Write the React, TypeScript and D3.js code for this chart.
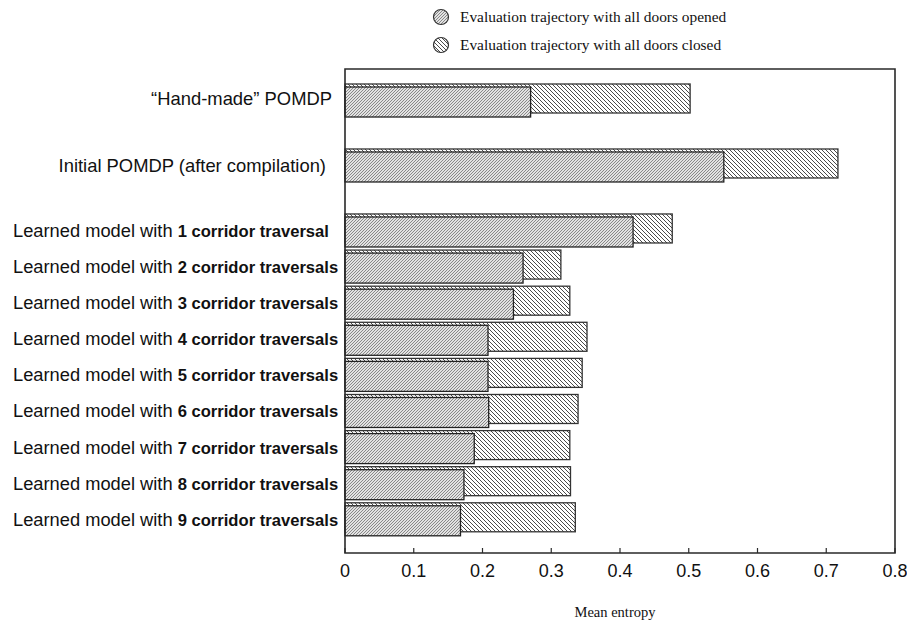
import React from 'react';
import * as d3 from 'd3';

const labelPlain = [
  '“Hand-made” POMDP',
  'Initial POMDP (after compilation)',
  'Learned model with ',
  'Learned model with ',
  'Learned model with ',
  'Learned model with ',
  'Learned model with ',
  'Learned model with ',
  'Learned model with ',
  'Learned model with ',
  'Learned model with ',
];
const labelBold = [
  '',
  '',
  '1 corridor traversal',
  '2 corridor traversals',
  '3 corridor traversals',
  '4 corridor traversals',
  '5 corridor traversals',
  '6 corridor traversals',
  '7 corridor traversals',
  '8 corridor traversals',
  '9 corridor traversals',
];
const openedValues = [0.27, 0.551, 0.419, 0.259, 0.245, 0.208, 0.208, 0.209, 0.188, 0.173, 0.168];
const closedValues = [0.502, 0.717, 0.476, 0.314, 0.327, 0.352, 0.345, 0.339, 0.327, 0.328, 0.335];
const xTicks = [0, 0.1, 0.2, 0.3, 0.4, 0.5, 0.6, 0.7, 0.8];
const legendLabels = [
  'Evaluation trajectory with all doors opened',
  'Evaluation trajectory with all doors closed',
];
const xTitle = 'Mean entropy';

const W = 907;
const H = 626;
const left = 345;
const right = 895;
const top = 69;
const bottom = 553;

export default function App() {
  const x = d3.scaleLinear().domain([0, 0.8]).range([left, right]);
  // slot positions: first two groups are spaced wider than the learned models
  const slot = (i: number) => (i < 2 ? i * 1.8 : 3.6 + (i - 2));
  const y = d3.scaleLinear().domain([0, 11.6]).range([84, 502.8]);
  const closedH = 29;
  const openOff = 3;
  const openH = 30;
  const frame = '#2a2a2a';
  const sans = 'Arial, "Liberation Sans", Helvetica, sans-serif';
  const serif = '"Times New Roman", "Liberation Serif", serif';

  return (
    <svg width={W} height={H} style={{ position: 'absolute', left: 0, top: 0, background: '#fff' }}>
      <defs>
        <pattern id="pOpen" patternUnits="userSpaceOnUse" width="3" height="3">
          <rect width="3" height="3" fill="#e2e2e2" />
          <path d="M0,3 L3,0 M-1,1 L1,-1 M2,4 L4,2" stroke="#6a6a6a" strokeWidth="0.75" />
        </pattern>
        <pattern id="pClosed" patternUnits="userSpaceOnUse" width="4" height="4">
          <rect width="4" height="4" fill="#fff" />
          <path d="M0,0 L4,4 M-1,3 L1,5 M3,-1 L5,1" stroke="#2a2a2a" strokeWidth="0.85" />
        </pattern>
      </defs>

      {/* legend */}
      {legendLabels.map((t, i) => (
        <g key={t}>
          <circle
            cx={441}
            cy={17 + i * 28}
            r={7.5}
            fill={i === 0 ? 'url(#pOpen)' : 'url(#pClosed)'}
            stroke="#333"
            strokeWidth={1.2}
          />
          <text x={460} y={22 + i * 28} fontFamily={serif} fontSize={15.4} fill="#111">
            {t}
          </text>
        </g>
      ))}

      {/* bars */}
      {closedValues.map((v, i) => {
        const y0 = y(slot(i));
        return (
          <g key={'b' + i}>
            <rect
              x={x(0)}
              y={y0}
              width={x(v) - x(0)}
              height={closedH}
              fill="url(#pClosed)"
              stroke="#333"
              strokeWidth={1.3}
            />
            <rect
              x={x(0)}
              y={y0 + openOff}
              width={x(openedValues[i]) - x(0)}
              height={openH}
              fill="url(#pOpen)"
              stroke="#222"
              strokeWidth={1.3}
            />
          </g>
        );
      })}

      {/* frame */}
      <path
        d={`M${left},${top} L${right},${top} L${right},${bottom} L${left},${bottom} Z`}
        fill="none"
        stroke={frame}
        strokeWidth={1.6}
      />
      {xTicks.map((t) => (
        <g key={'t' + t}>
          <line x1={x(t)} x2={x(t)} y1={bottom} y2={bottom - 5} stroke={frame} strokeWidth={1.2} />
          <text
            x={x(t)}
            y={577}
            textAnchor="middle"
            fontFamily={sans}
            fontSize={18}
            fill="#111"
          >
            {d3.format('')(t)}
          </text>
        </g>
      ))}
      <text x={615} y={617} textAnchor="middle" fontFamily={serif} fontSize={14.5} fill="#111">
        {xTitle}
      </text>

      {/* category labels */}
      {labelPlain.map((p, i) => {
        const cy = y(slot(i)) + (openOff + openH) / 2 + 6.5 - (i === 0 ? 2.5 : 0);
        if (i < 2) {
          return (
            <text
              key={'l' + i}
              x={i === 0 ? 332 : 326}
              y={cy}
              textAnchor="end"
              fontFamily={sans}
              fontSize={18.4}
              fill="#111"
            >
              {p}
            </text>
          );
        }
        return (
          <text key={'l' + i} x={13} y={cy} fontFamily={sans} fontSize={18.3} fill="#111">
            {p}
            <tspan fontWeight="bold" fontSize={16.6}>
              {labelBold[i]}
            </tspan>
          </text>
        );
      })}
    </svg>
  );
}
